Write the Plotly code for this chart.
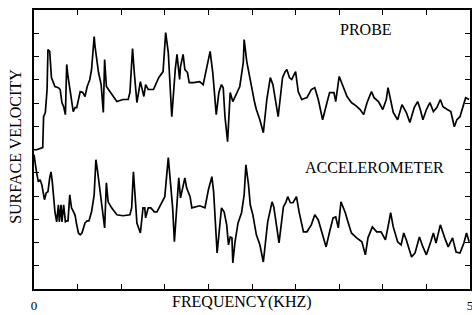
import plotly.graph_objects as go

# Frequency (kHz) and surface velocity (arbitrary units, axis 0..12)
probe_f = [0.00, 0.03, 0.10, 0.11, 0.13, 0.15, 0.16, 0.18, 0.20, 0.24, 0.28, 0.30, 0.32, 0.34, 0.36, 0.375,
           0.39, 0.42, 0.45, 0.47, 0.49, 0.53, 0.56, 0.585, 0.61, 0.64, 0.66, 0.69, 0.70, 0.74, 0.77, 0.795,
           0.81, 0.83, 0.87, 0.95, 1.02, 1.08, 1.10, 1.13, 1.15, 1.18, 1.22, 1.26, 1.28, 1.31, 1.37, 1.43,
           1.48, 1.51, 1.54, 1.58, 1.62, 1.64, 1.67, 1.68, 1.71, 1.73, 1.76, 1.78, 1.83, 1.90, 1.94, 1.98,
           2.02, 2.05, 2.09, 2.12, 2.15, 2.17, 2.19, 2.22, 2.25, 2.28, 2.32, 2.36, 2.40, 2.41, 2.44, 2.48,
           2.53, 2.55, 2.59, 2.63, 2.67, 2.71, 2.74, 2.80, 2.85, 2.88, 2.90, 2.93, 2.955, 3.00, 3.03, 3.07,
           3.13, 3.18, 3.22, 3.26, 3.31, 3.36, 3.39, 3.44, 3.46, 3.50, 3.55, 3.59, 3.64, 3.69, 3.74, 3.78,
           3.82, 3.87, 3.90, 3.95, 4.00, 4.04, 4.06, 4.09, 4.12, 4.17, 4.22, 4.27, 4.31, 4.36, 4.40, 4.43,
           4.46, 4.50, 4.54, 4.58, 4.62, 4.66, 4.69, 4.74, 4.78, 4.82, 4.85, 4.885, 4.92, 4.95, 4.99]
probe_v = [5.99, 5.99, 6.08, 7.41, 7.59, 8.58, 10.30, 10.22, 9.09, 8.71, 8.66, 8.58, 8.02, 7.84, 7.50, 9.66,
           9.14, 8.28, 7.63, 7.80, 7.80, 8.49, 8.45, 8.28, 8.71, 9.01, 9.44, 10.86, 10.43, 9.31, 8.79, 7.59,
           9.87, 8.71, 8.49, 8.06, 8.15, 8.15, 8.45, 10.34, 9.31, 8.02, 8.92, 8.28, 8.79, 8.58, 8.58, 9.09,
           9.35, 11.03, 10.17, 7.41, 9.44, 10.09, 9.01, 9.57, 10.09, 9.44, 9.31, 8.88, 8.88, 8.92, 8.79, 9.57,
           10.22, 9.31, 7.50, 8.45, 8.79, 8.66, 7.41, 6.34, 8.45, 8.06, 8.36, 8.71, 9.74, 10.73, 9.78, 8.92,
           8.02, 7.72, 7.28, 6.72, 8.15, 9.09, 8.79, 7.41, 9.09, 9.35, 9.44, 9.09, 9.01, 9.35, 8.49, 8.15,
           8.23, 8.58, 8.66, 8.15, 7.28, 8.02, 8.45, 8.45, 8.06, 9.14, 8.66, 8.28, 8.02, 7.89, 7.72, 7.50,
           8.02, 8.49, 8.23, 8.06, 7.72, 8.15, 8.66, 8.15, 7.59, 7.28, 7.93, 7.59, 7.16, 7.80, 8.06, 7.72,
           7.28, 7.72, 8.02, 7.63, 7.80, 8.15, 7.84, 7.72, 7.63, 6.98, 7.28, 7.41, 7.84, 8.23, 8.15]

accel_f = [0.00, 0.01, 0.03, 0.05, 0.07, 0.09, 0.11, 0.12, 0.14, 0.16, 0.18, 0.195, 0.21, 0.24, 0.26, 0.28,
           0.29, 0.31, 0.32, 0.34, 0.36, 0.375, 0.39, 0.41, 0.43, 0.45, 0.47, 0.49, 0.51, 0.53, 0.55, 0.585,
           0.61, 0.63, 0.66, 0.69, 0.71, 0.73, 0.76, 0.79, 0.81, 0.83, 0.85, 0.89, 0.95, 1.02, 1.10, 1.12,
           1.14, 1.16, 1.18, 1.22, 1.25, 1.27, 1.28, 1.31, 1.34, 1.38, 1.41, 1.44, 1.50, 1.54, 1.56, 1.59,
           1.61, 1.64, 1.66, 1.68, 1.71, 1.73, 1.75, 1.79, 1.81, 1.85, 1.90, 1.96, 2.00, 2.04, 2.06, 2.10,
           2.13, 2.15, 2.18, 2.21, 2.23, 2.25, 2.27, 2.28, 2.305, 2.34, 2.38, 2.41, 2.43, 2.46, 2.48, 2.51,
           2.55, 2.59, 2.63, 2.68, 2.73, 2.75, 2.81, 2.86, 2.89, 2.91, 2.94, 2.97, 3.01, 3.04, 3.09, 3.13,
           3.18, 3.22, 3.26, 3.30, 3.35, 3.39, 3.43, 3.46, 3.49, 3.52, 3.57, 3.60, 3.64, 3.70, 3.76, 3.80,
           3.83, 3.88, 3.93, 3.98, 4.03, 4.06, 4.09, 4.12, 4.17, 4.21, 4.24, 4.27, 4.33, 4.37, 4.42, 4.46,
           4.50, 4.55, 4.58, 4.61, 4.66, 4.71, 4.75, 4.80, 4.84, 4.885, 4.93, 4.96, 4.99]
accel_v = [5.78, 5.47, 5.00, 4.61, 4.70, 4.48, 4.05, 3.84, 4.14, 4.18, 4.78, 5.04, 4.61, 3.32, 2.89, 3.62,
           2.89, 3.62, 2.89, 3.62, 2.89, 2.93, 2.93, 4.05, 3.49, 3.32, 3.19, 2.76, 2.41, 2.33, 2.41, 2.84,
           2.93, 2.93, 3.32, 4.05, 5.56, 5.04, 4.05, 3.32, 2.63, 4.57, 3.75, 3.49, 3.19, 3.15, 3.19, 3.49,
           5.04, 3.97, 2.84, 2.41, 3.49, 3.49, 3.06, 3.49, 3.49, 3.32, 3.32, 3.53, 3.97, 5.65, 4.91, 3.49,
           2.03, 3.62, 4.78, 3.92, 4.48, 4.78, 4.35, 3.97, 3.49, 3.53, 3.58, 3.49, 4.27, 4.83, 4.18, 1.55,
           2.76, 3.49, 3.32, 2.76, 1.90, 2.24, 2.20, 1.12, 2.03, 2.84, 3.28, 4.05, 5.34, 4.48, 3.62, 3.19,
           2.33, 1.90, 1.16, 2.89, 3.75, 3.53, 1.98, 3.53, 3.75, 3.97, 3.71, 3.71, 3.97, 3.32, 2.46, 2.46,
           2.76, 3.19, 2.97, 2.46, 1.81, 2.46, 3.06, 3.10, 2.63, 3.75, 3.28, 2.89, 2.41, 2.20, 2.03, 1.47,
           2.20, 2.67, 2.46, 2.46, 2.11, 2.67, 3.28, 2.67, 2.03, 1.90, 2.41, 2.11, 1.38, 1.55, 2.24, 1.81,
           1.47, 2.03, 2.41, 1.98, 2.76, 2.20, 1.81, 2.20, 1.59, 1.55, 1.98, 2.41, 2.03]

x_ticks = [0, 0.5, 1, 1.5, 2, 2.5, 3, 3.5, 4, 4.5, 5]
x_tick_labels = ["0", "", "", "", "", "", "", "", "", "", "5"]
y_ticks = [1, 2, 3, 4, 5, 6, 7, 8, 9, 10, 11]

SERIF = "Liberation Serif"

fig = go.Figure()
fig.add_trace(go.Scatter(x=probe_f, y=probe_v, mode="lines", name="PROBE",
                         line=dict(color="black", width=1.7)))
fig.add_trace(go.Scatter(x=accel_f, y=accel_v, mode="lines", name="ACCELEROMETER",
                         line=dict(color="black", width=1.7)))

axis_common = dict(showgrid=False, zeroline=False, showline=True, linecolor="black", linewidth=1.5,
                   mirror="ticks", ticks="inside", ticklen=5, tickwidth=1.2, tickcolor="black",
                   automargin=False)
fig.update_xaxes(range=[0, 5], tickvals=x_ticks, ticktext=x_tick_labels,
                 tickfont=dict(family=SERIF, size=13, color="black"), ticklabelstandoff=4,
                 ticklabeloverflow="allow", **axis_common)
fig.update_yaxes(range=[0, 12], tickvals=y_ticks, showticklabels=False, **axis_common)

ann_font = dict(family=SERIF, size=16, color="black")
fig.update_layout(
    width=472, height=315,
    margin=dict(l=34, r=2, t=10, b=26, autoexpand=False),
    paper_bgcolor="white", plot_bgcolor="white",
    showlegend=False,
    annotations=[
        dict(text="PROBE", x=0.761, y=0.93, xref="paper", yref="paper",
             xanchor="center", yanchor="middle", showarrow=False, font=ann_font),
        dict(text="ACCELEROMETER", x=0.781, y=0.437, xref="paper", yref="paper",
             xanchor="center", yanchor="middle", showarrow=False, font=ann_font),
        dict(text="FREQUENCY(KHZ)", x=0.477, y=-0.047, xref="paper", yref="paper",
             xanchor="center", yanchor="middle", showarrow=False, font=ann_font),
        dict(text="SURFACE VELOCITY", x=-0.044, y=0.5125, xref="paper", yref="paper",
             xanchor="center", yanchor="middle", textangle=-90, showarrow=False, font=ann_font),
    ],
)

fig.write_html("out.html", config={"displayModeBar": False},
               post_script="document.body.style.margin='0';document.body.style.overflow='hidden';")
